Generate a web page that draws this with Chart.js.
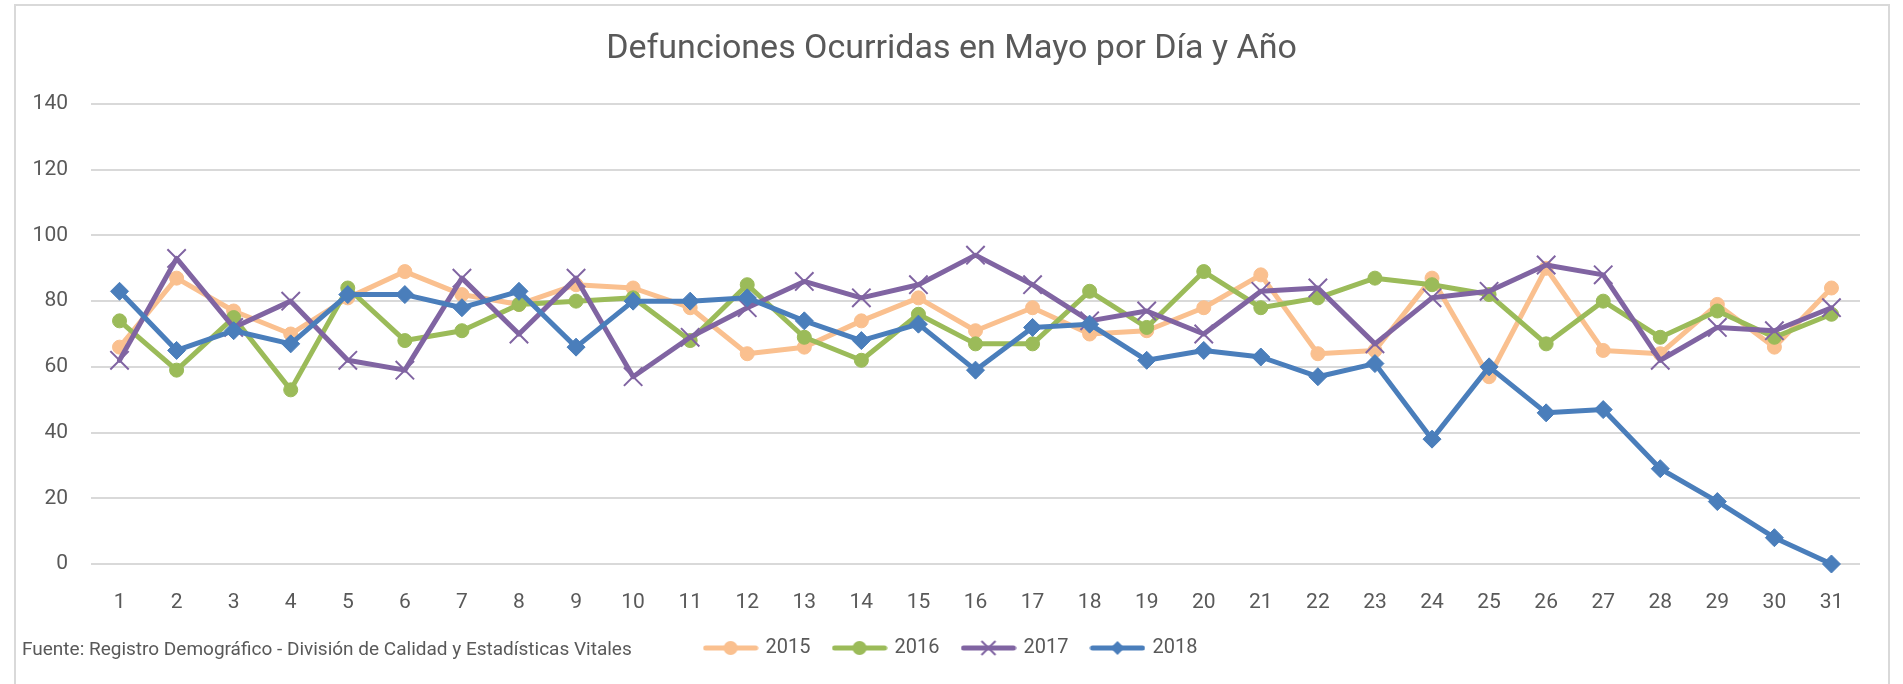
<!DOCTYPE html>
<html lang="es">
<head>
<meta charset="utf-8">
<title>Defunciones Ocurridas en Mayo por Día y Año</title>
<script src="https://cdn.jsdelivr.net/npm/chart.js@4.4.0/dist/chart.umd.min.js"></script>
<style>
  html, body { margin: 0; padding: 0; background: #fff; }
  #wrap { width: 1903px; height: 684px; position: relative; }
</style>
</head>
<body>
<div id="wrap"><canvas id="grafica"></canvas></div>
<script>
// Datos
const dias = ['1','2','3','4','5','6','7','8','9','10','11','12','13','14','15','16',
              '17','18','19','20','21','22','23','24','25','26','27','28','29','30','31'];
const anios = ['2015', '2016', '2017', '2018'];

const def2015 = [66, 87, 77, 70, 81, 89, 82, 79, 85, 84, 78, 64, 66, 74, 81, 71,
                 78, 70, 71, 78, 88, 64, 65, 87, 57, 90, 65, 64, 79, 66, 84];
const def2016 = [74, 59, 75, 53, 84, 68, 71, 79, 80, 81, 68, 85, 69, 62, 76, 67,
                 67, 83, 72, 89, 78, 81, 87, 85, 82, 67, 80, 69, 77, 69, 76];
const def2017 = [62, 93, 72, 80, 62, 59, 87, 70, 87, 57, 69, 78, 86, 81, 85, 94,
                 85, 74, 77, 70, 83, 84, 67, 81, 83, 91, 88, 62, 72, 71, 78];
const def2018 = [83, 65, 71, 67, 82, 82, 78, 83, 66, 80, 80, 81, 74, 68, 73, 59,
                 72, 73, 62, 65, 63, 57, 61, 38, 60, 46, 47, 29, 19, 8, 0];

const titulo = 'Defunciones Ocurridas en Mayo por Día y Año';
const fuente = 'Fuente: Registro Demográfico - División de Calidad y Estadísticas Vitales';

const colores = ['#FAC08F', '#9BBB59', '#8064A2', '#4A7EBB'];
const marcadores = ['circle', 'circle', 'crossRot', 'rectRot'];
const gris = '#595959';

Chart.defaults.font.family = 'Roboto, "Open Sans", sans-serif';
Chart.defaults.color = gris;

// icono de la leyenda: línea con el marcador en medio
function iconoLeyenda(color, estilo) {
    const c = document.createElement('canvas');
    c.width = 56;
    c.height = 20;
    const ctx = c.getContext('2d');
    ctx.strokeStyle = color;
    ctx.fillStyle = color;
    ctx.lineWidth = 5;
    ctx.lineCap = 'round';
    ctx.beginPath();
    ctx.moveTo(3, 10);
    ctx.lineTo(53, 10);
    ctx.stroke();
    if (estilo === 'circle') {
        ctx.beginPath();
        ctx.arc(28, 10, 7, 0, Math.PI * 2);
        ctx.fill();
    } else if (estilo === 'rectRot') {
        ctx.beginPath();
        ctx.moveTo(28, 3);
        ctx.lineTo(35, 10);
        ctx.lineTo(28, 17);
        ctx.lineTo(21, 10);
        ctx.closePath();
        ctx.fill();
    } else if (estilo === 'crossRot') {
        ctx.lineWidth = 2;
        ctx.lineCap = 'butt';
        ctx.beginPath();
        ctx.moveTo(21, 3); ctx.lineTo(35, 17);
        ctx.moveTo(35, 3); ctx.lineTo(21, 17);
        ctx.stroke();
    }
    return c;
}

// marco gris y texto de la fuente
const marcoPlugin = {
    id: 'marco',
    beforeDraw(chart) {
        const ctx = chart.ctx;
        ctx.save();
        ctx.fillStyle = '#ffffff';
        ctx.fillRect(0, 0, chart.width, chart.height);
        ctx.strokeStyle = '#D9D9D9';
        ctx.lineWidth = 2;
        ctx.strokeRect(15, 5, 1874, 720);
        ctx.restore();
    },
    afterDraw(chart) {
        const ctx = chart.ctx;
        ctx.save();
        ctx.font = '19px Roboto, "Open Sans", sans-serif';
        ctx.fillStyle = gris;
        ctx.textBaseline = 'middle';
        ctx.textAlign = 'left';
        ctx.fillText(fuente, 22, 650);
        ctx.restore();
    }
};

const series = [def2015, def2016, def2017, def2018];
const datasets = series.map((vals, i) => ({
    label: anios[i],
    data: vals,
    borderColor: colores[i],
    backgroundColor: colores[i],
    borderWidth: 5,
    borderJoinStyle: 'round',
    borderCapStyle: 'round',
    tension: 0,
    clip: false,
    pointStyle: marcadores[i],
    pointRadius: marcadores[i] === 'circle' ? 7 : (marcadores[i] === 'rectRot' ? 9 : 13),
    pointBorderWidth: marcadores[i] === 'crossRot' ? 2 : 1,
    pointBorderColor: colores[i],
    pointBackgroundColor: colores[i],
    order: series.length - 1 - i
}));

const chart = new Chart(document.getElementById('grafica'), {
    type: 'line',
    data: { labels: dias, datasets: datasets },
    options: {
        responsive: true,
        maintainAspectRatio: false,
        animation: false,
        devicePixelRatio: 1,
        layout: { padding: { left: 0, right: 0, top: 0, bottom: 16 } },
        plugins: {
            title: {
                display: true,
                text: titulo,
                color: gris,
                font: { size: 34, weight: 'normal' },
                padding: { top: 28.6, bottom: 34.6 }
            },
            legend: {
                position: 'bottom',
                labels: {
                    usePointStyle: true,
                    pointStyleWidth: 50,
                    boxHeight: 20,
                    padding: 24,
                    color: gris,
                    font: { size: 20 },
                    generateLabels: (ch) => ch.data.datasets.map((ds, i) => ({
                        text: ds.label,
                        pointStyle: iconoLeyenda(colores[i], marcadores[i]),
                        fillStyle: colores[i],
                        strokeStyle: colores[i],
                        lineWidth: 0,
                        hidden: false,
                        datasetIndex: i,
                        fontColor: gris
                    }))
                }
            },
            tooltip: { enabled: false }
        },
        scales: {
            x: {
                offset: true,
                grid: { display: false },
                border: { display: false },
                ticks: { padding: 18.4, font: { size: 21 }, color: gris, maxRotation: 0, autoSkip: false },
                afterFit: (s) => { s.height = 50; }
            },
            y: {
                min: 0,
                max: 140,
                ticks: { stepSize: 20, padding: 23, font: { size: 21 }, color: gris },
                grid: { color: '#D9D9D9', lineWidth: 2, drawTicks: false },
                border: { display: false },
                afterFit: (s) => { s.width = 91; }
            },
            derecha: {
                position: 'right',
                display: true,
                grid: { display: false },
                border: { display: false },
                ticks: { display: false },
                afterFit: (s) => { s.width = 43; }
            }
        }
    },
    plugins: [marcoPlugin]
});
</script>
</body>
</html>
